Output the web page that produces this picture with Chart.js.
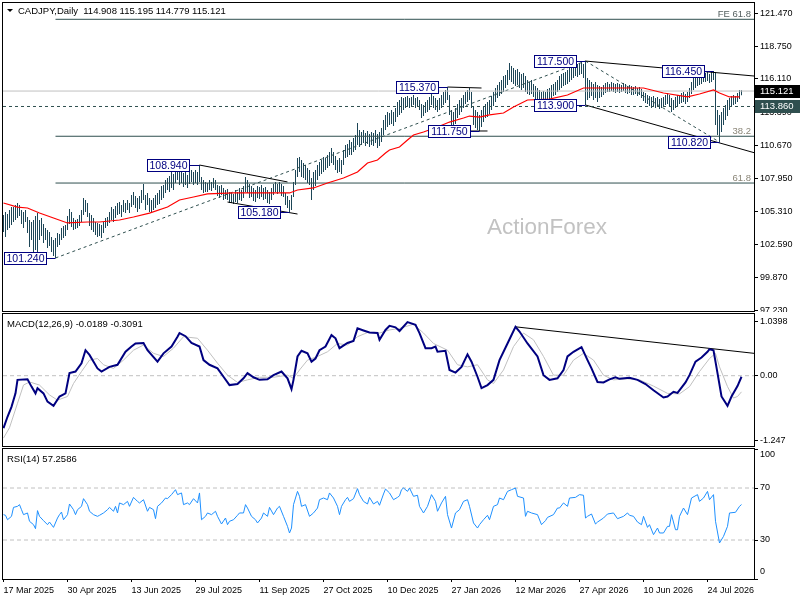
<!DOCTYPE html>
<html>
<head>
<meta charset="utf-8">
<title>CADJPY Daily</title>
<script src="https://cdn.jsdelivr.net/npm/chart.js@4.4.1/dist/chart.umd.min.js"></script>
<style>
  html, body { margin: 0; padding: 0; background: #fff; }
  #wrap { position: relative; width: 800px; height: 600px; overflow: hidden; background: #fff; }
  #wrap canvas { position: absolute; left: 0; }
</style>
</head>
<body>
<div id="wrap">
  <canvas id="priceChart" width="800" height="312" style="top:0px"></canvas>
  <canvas id="macdChart" width="800" height="135" style="top:312px"></canvas>
  <canvas id="rsiChart" width="800" height="153" style="top:447px"></canvas>
</div>
<script>
// ---- data (daily bars, index 0 = 17 Mar 2025) ----
const headerText = 'CADJPY,Daily  114.908 115.195 114.779 115.121';
const macdText = 'MACD(12,26,9) -0.0189 -0.3091';
const rsiText = 'RSI(14) 57.2586';

const dateIdx = [0, 32, 64, 96, 128, 160, 192, 224, 256, 288, 320, 352];
const dateLabels = ['17 Mar 2025', '30 Apr 2025', '13 Jun 2025', '29 Jul 2025', '11 Sep 2025', '27 Oct 2025',
  '10 Dec 2025', '27 Jan 2026', '12 Mar 2026', '27 Apr 2026', '10 Jun 2026', '24 Jul 2026'];

const highs = [
  105.00,105.25,105.08,105.41,105.65,105.65,105.82,105.98,105.82,105.41,
  105.25,105.41,104.84,104.59,104.43,104.59,104.92,105.16,104.59,104.76,
  104.27,103.94,103.78,103.61,103.21,102.96,103.12,103.53,103.45,103.94,
  104.10,104.18,104.92,105.49,105.25,104.76,104.59,104.67,105.00,105.41,
  106.39,106.23,105.98,105.16,105.00,104.76,104.43,104.35,104.27,104.18,
  104.43,104.76,104.84,105.25,105.65,105.49,105.74,105.98,106.06,105.82,
  106.23,105.98,106.23,105.98,106.63,106.88,106.55,106.39,106.55,107.04,
  107.53,106.63,106.80,106.39,106.23,106.39,106.63,106.80,107.04,107.37,
  107.45,107.86,108.02,108.19,108.51,108.35,108.84,108.92,108.59,108.67,
  108.43,108.51,108.27,108.59,108.67,108.51,108.67,108.51,109.08,108.10,
  107.86,107.70,107.61,107.86,107.70,108.02,107.86,107.45,107.37,107.45,
  107.21,107.04,107.12,106.88,106.80,106.72,107.04,106.88,107.21,107.04,
  107.37,108.10,107.86,107.53,107.37,107.21,107.04,107.37,107.29,107.45,
  107.21,107.29,107.04,106.88,107.21,107.53,107.70,107.53,107.70,107.53,
  107.37,106.80,106.55,106.23,106.63,107.70,108.67,109.65,109.74,109.49,
  109.25,109.08,108.84,108.67,108.02,108.51,108.67,109.08,109.33,109.49,
  109.74,109.65,109.90,110.14,110.47,110.14,109.82,109.49,109.65,109.49,
  110.31,110.72,110.80,111.12,110.96,111.29,111.53,112.51,111.94,111.78,
  111.94,111.70,111.86,111.61,111.78,111.70,111.94,111.61,111.78,112.10,
  112.76,113.17,113.41,113.33,113.57,113.41,113.74,114.23,114.39,114.64,
  114.55,114.64,114.72,114.55,114.64,114.80,114.55,114.64,114.39,114.06,
  113.98,114.23,114.39,114.64,114.96,114.72,114.55,114.39,114.55,114.80,
  115.04,115.21,115.45,114.80,113.57,113.41,113.74,114.06,114.39,114.55,
  114.80,115.04,115.21,115.37,115.04,113.90,113.57,113.41,113.17,113.57,
  113.90,114.06,114.23,114.39,114.72,115.04,115.37,115.62,115.86,116.02,
  116.35,116.43,116.84,117.41,117.17,117.00,116.84,116.92,116.68,116.51,
  116.60,116.35,116.02,115.86,116.02,115.70,115.53,115.37,115.21,115.04,
  115.12,115.04,115.29,115.37,115.62,115.70,115.86,116.02,116.35,116.51,
  116.60,116.68,116.84,117.00,117.09,117.17,117.25,117.33,117.41,117.49,
  117.33,117.57,116.19,116.02,115.86,115.70,115.86,115.62,115.53,115.45,
  115.62,115.78,115.86,115.70,115.86,115.78,115.70,115.78,115.70,115.62,
  115.78,115.70,115.53,115.62,115.53,115.45,115.53,115.37,115.45,115.29,
  115.04,114.96,114.80,114.72,114.64,114.72,114.55,114.64,114.47,114.55,
  114.64,114.80,114.96,114.80,114.55,114.39,114.64,114.80,114.72,114.96,
  115.04,114.88,115.04,115.37,115.86,116.19,116.35,116.51,116.43,116.60,
  116.68,116.60,116.68,116.51,116.68,116.76,116.68,113.57,113.17,113.41,
  113.74,113.98,114.39,114.55,114.72,114.80,114.72,114.96,115.21,115.195
];
const lows = [
  103.61,103.21,103.78,103.94,104.18,104.43,104.59,104.76,104.92,104.27,
  103.94,104.43,103.53,102.39,102.96,101.73,102.14,101.57,102.96,103.29,
  102.71,102.96,102.31,102.47,101.98,101.65,101.49,102.39,102.55,102.96,
  103.12,103.29,103.78,104.27,104.02,103.78,103.86,103.94,104.10,104.43,
  105.00,105.25,104.84,104.10,103.78,103.61,103.37,103.21,103.29,103.12,
  103.53,103.94,104.10,104.35,104.59,104.43,104.76,105.00,105.08,104.84,
  105.25,105.16,105.41,105.16,105.65,105.82,105.57,105.25,105.49,105.98,
  106.23,105.41,105.82,105.25,105.16,105.41,105.57,105.82,105.90,106.23,
  106.39,106.80,107.04,106.88,107.21,107.04,107.61,107.86,107.45,107.61,
  107.29,107.45,107.21,107.53,107.70,107.45,107.61,107.45,107.70,107.04,
  106.80,106.88,106.88,107.04,106.96,107.21,107.04,106.55,106.39,106.63,
  106.23,106.31,106.23,105.98,105.98,105.90,106.06,105.98,106.23,106.14,
  106.39,106.88,106.80,106.39,106.47,106.14,106.06,106.39,106.31,106.47,
  106.23,106.31,105.98,105.90,106.23,106.63,106.88,106.72,106.88,106.55,
  106.47,105.82,105.57,105.25,105.41,106.47,107.45,108.10,108.51,108.10,
  108.02,107.86,107.61,107.45,106.23,107.04,107.37,107.86,108.19,108.35,
  108.51,108.67,108.84,109.00,109.25,109.08,108.67,108.43,108.51,108.35,
  109.08,109.65,109.74,109.90,109.90,110.14,110.31,110.72,110.55,110.72,
  110.88,110.63,110.80,110.55,110.72,110.63,110.88,110.47,110.63,110.96,
  111.53,111.94,112.19,112.35,112.43,112.27,112.59,113.00,113.17,113.33,
  113.57,113.74,113.90,113.74,113.82,113.98,113.74,113.90,113.57,112.92,
  113.08,113.33,113.41,113.57,113.98,113.74,113.57,113.41,113.57,113.74,
  113.98,114.15,114.39,113.17,111.70,112.10,112.43,112.92,113.17,113.41,
  113.74,114.06,114.23,114.39,113.74,112.35,112.10,111.94,111.86,112.19,
  112.59,112.92,113.00,113.25,113.57,113.90,114.23,114.55,114.72,114.88,
  115.04,115.37,115.62,116.02,115.86,115.70,115.53,115.62,115.37,115.21,
  115.37,115.04,114.88,114.80,114.88,114.64,114.39,114.15,114.06,113.98,
  114.06,113.98,114.23,114.39,114.55,114.72,114.80,115.04,115.21,115.37,
  115.53,115.62,115.70,115.86,116.02,116.19,116.35,116.27,116.43,116.51,
  116.19,113.98,114.39,114.55,114.72,114.39,114.55,114.23,114.55,114.64,
  114.80,114.96,115.04,115.04,115.12,115.04,114.96,115.04,114.96,115.04,
  115.12,114.96,114.88,114.96,114.80,114.80,114.88,114.72,114.80,114.55,
  114.31,114.15,114.06,113.90,113.74,113.90,113.74,113.82,113.66,113.74,
  113.90,113.98,114.06,113.90,113.41,113.57,113.74,113.90,114.06,114.15,
  114.23,114.06,114.23,114.55,114.88,115.21,115.37,115.53,115.62,115.70,
  115.86,115.86,115.94,115.78,115.86,116.02,112.35,111.53,110.96,111.78,
  112.35,112.76,113.08,113.57,113.82,113.98,114.06,114.23,114.47,114.779
];

// red moving average, sampled [bar index, value]
const maLine = [
  [0,105.98],[7,105.65],[12,105.57],[18,105.16],[25,104.76],[32,104.35],[42,104.43],[48,104.43],[58,104.59],[65,104.84],
  [73,105.16],[82,105.65],[88,106.23],[95,106.47],[102,106.72],[115,106.80],[122,106.80],[128,106.80],[140,106.80],[143,106.80],
  [147,107.04],[155,107.21],[162,107.61],[170,108.02],[177,108.51],[182,109.25],[187,109.49],[191,110.06],[193,110.31],[198,110.55],
  [202,111.12],[205,111.53],[210,111.78],[217,112.19],[223,112.59],[230,112.92],[233,113.08],[238,113.00],[243,113.17],[250,113.33],
  [255,113.82],[262,114.39],[273,114.47],[282,114.80],[290,115.37],[297,115.37],[307,115.37],[320,115.37],[330,114.96],[342,114.64],
  [348,114.88],[355,115.21],[358,114.96],[363,114.64],[368,114.64]
];

const priceTicks = [121.47, 118.75, 116.11, 113.39, 110.67, 107.95, 105.31, 102.59, 99.87, 97.23];
const bidPrice = 115.121;
const levelPrice = 113.86;
const fibValues = [120.98, 111.43, 107.61];
const fibNames = ['FE 61.8', '38.2', '61.8'];
const fibStart = 26;

// price tags: text, bar index, price
const tagText = ['101.240', '108.940', '105.180', '115.370', '111.750', '117.500', '113.900', '116.450', '110.820'];
const tagIndex = [26, 98, 143, 222, 238, 291, 291, 355, 358];
const tagPrice = [101.49, 109.08, 105.25, 115.45, 111.86, 117.57, 113.98, 116.76, 110.96];

// trend lines [index1, price1, index2, price2]
const solidLines = [
  [291, 117.57, 375.25, 116.35],
  [291, 113.98, 375.25, 110.09],
  [98, 109.08, 142, 107.70],
  [112, 106.06, 147, 105.08],
  [222, 115.45, 239, 115.37],
  [232, 111.86, 242, 111.86]
];
const dashedLines = [
  [26, 101.49, 291, 117.57],
  [291, 117.57, 358, 110.96]
];

const macdLine = [
  [0,-1.01],[2,-0.79],[4,-0.60],[6,-0.34],[7,-0.08],[12,-0.07],[14,-0.21],[16,-0.34],[17,-0.24],[20,-0.34],
  [22,-0.50],[25,-0.58],[28,-0.40],[31,-0.34],[33,0.05],[36,0.08],[39,0.24],[41,0.49],[43,0.40],[47,0.14],
  [49,0.08],[53,0.17],[57,0.21],[61,0.46],[64,0.56],[66,0.62],[70,0.63],[72,0.49],[77,0.27],[80,0.43],
  [84,0.56],[87,0.75],[88,0.82],[91,0.76],[94,0.63],[98,0.56],[100,0.30],[103,0.21],[107,0.14],[110,-0.02],
  [113,-0.18],[117,-0.16],[120,-0.05],[122,0.05],[125,-0.03],[128,-0.08],[132,-0.07],[135,0.01],[139,0.08],[142,-0.05],
  [144,-0.26],[145,-0.08],[147,0.37],[149,0.48],[152,0.43],[154,0.27],[156,0.33],[158,0.49],[161,0.56],[164,0.78],
  [166,0.72],[168,0.53],[172,0.63],[175,0.67],[177,0.91],[180,0.87],[183,0.83],[187,0.82],[188,0.69],[191,0.88],
  [193,0.96],[196,0.93],[198,0.86],[202,1.03],[206,0.98],[208,0.82],[211,0.53],[214,0.53],[216,0.56],[217,0.46],
  [221,0.48],[223,0.11],[226,0.06],[229,0.17],[232,0.41],[234,0.27],[237,-0.02],[239,-0.24],[242,-0.18],[245,-0.08],
  [248,0.30],[252,0.62],[256,0.94],[258,0.85],[262,0.62],[267,0.37],[270,0.01],[273,-0.08],[277,-0.05],[280,0.11],
  [282,0.37],[285,0.46],[289,0.55],[292,0.30],[294,0.14],[297,-0.12],[300,-0.13],[303,-0.07],[306,-0.03],[308,-0.06],
  [313,-0.04],[317,-0.08],[321,-0.16],[325,-0.28],[330,-0.42],[332,-0.40],[335,-0.31],[337,-0.33],[341,-0.13],[343,0.01],
  [346,0.27],[349,0.35],[352,0.46],[353,0.51],[355,0.49],[357,0.05],[359,-0.40],[362,-0.58],[364,-0.40],[367,-0.20],
  [369,-0.02]
];
const signalLine = [
  [0,-1.20],[3,-1.00],[7,-0.53],[10,-0.18],[13,-0.12],[18,-0.18],[23,-0.37],[27,-0.47],[32,-0.40],[35,-0.15],
  [39,0.08],[43,0.30],[47,0.33],[50,0.21],[55,0.14],[60,0.30],[65,0.49],[70,0.59],[75,0.43],[80,0.37],
  [85,0.53],[90,0.75],[97,0.72],[102,0.49],[107,0.24],[112,0.01],[117,-0.13],[122,-0.08],[128,-0.03],[135,-0.03],
  [142,0.01],[145,-0.05],[148,0.11],[152,0.30],[157,0.37],[162,0.46],[167,0.62],[172,0.59],[177,0.75],[182,0.83],
  [188,0.82],[193,0.88],[198,0.91],[205,0.99],[210,0.82],[215,0.62],[222,0.49],[227,0.21],[232,0.17],[237,0.21],
  [242,-0.08],[245,-0.15],[250,0.11],[255,0.56],[260,0.82],[265,0.69],[270,0.37],[275,0.01],[280,0.01],[285,0.30],
  [290,0.43],[295,0.30],[300,0.01],[305,-0.08],[312,-0.06],[318,-0.08],[325,-0.20],[332,-0.34],[338,-0.35],[343,-0.21],
  [348,0.08],[353,0.33],[356,0.43],[358,0.17],[362,-0.21],[365,-0.43],[367,-0.40],[369,-0.31]
];
const macdTicks = [1.0398, 0, -1.247];
const macdTickLabels = ['1.0398', '0.00', '-1.247'];
const macdTrend = [256, 0.94, 375.25, 0.43];

const rsiLine = [
  [0,49.5],[1,49.0],[2,45.6],[4,48.2],[5,55.1],[7,55.9],[8,57.2],[9,53.3],[10,49.5],[12,50.8],
  [13,44.4],[15,41.8],[16,38.7],[17,52.6],[18,48.2],[20,44.9],[22,41.8],[23,43.8],[25,39.7],[27,46.9],
  [28,49.5],[29,51.5],[30,45.6],[32,49.5],[33,57.7],[35,53.3],[36,49.5],[37,53.3],[39,55.9],[40,61.8],
  [42,57.2],[43,52.1],[45,49.5],[47,48.2],[48,49.0],[50,50.8],[52,53.3],[53,55.1],[55,52.1],[56,55.9],
  [57,50.8],[58,58.5],[60,57.2],[62,59.7],[63,55.9],[65,62.8],[67,59.7],[68,58.5],[70,61.0],[72,52.1],
  [73,55.1],[75,53.3],[76,46.4],[77,55.9],[79,58.5],[81,62.3],[82,61.8],[84,64.9],[86,68.7],[87,64.9],
  [89,66.2],[90,57.2],[92,58.5],[93,57.2],[95,61.8],[97,58.5],[98,66.2],[99,45.6],[101,48.2],[102,50.8],
  [104,49.5],[106,52.1],[107,48.2],[109,42.3],[111,46.9],[112,41.8],[113,44.4],[115,45.6],[117,49.0],[118,50.8],
  [120,50.8],[121,57.2],[122,54.6],[124,48.2],[126,45.6],[127,43.1],[129,46.9],[130,50.8],[132,48.2],[133,55.1],
  [135,49.5],[137,54.6],[138,55.9],[140,48.2],[142,40.5],[143,35.4],[144,39.2],[145,57.2],[147,67.4],[148,63.6],
  [149,55.9],[151,57.2],[153,48.2],[155,50.8],[157,54.6],[158,61.0],[160,62.3],[162,61.0],[163,66.2],[165,62.3],
  [167,55.9],[168,49.5],[169,55.9],[171,61.0],[172,62.8],[173,59.7],[175,61.8],[177,69.5],[178,64.9],[180,59.7],
  [182,57.7],[183,62.8],[185,57.7],[187,59.7],[188,56.7],[190,65.4],[191,69.2],[193,66.2],[195,61.0],[197,62.8],
  [198,64.0],[199,68.7],[200,70.0],[202,67.4],[203,70.0],[205,63.6],[207,64.4],[208,55.9],[210,50.8],[212,55.9],
  [214,64.9],[216,59.7],[217,52.1],[219,58.5],[221,63.6],[222,49.5],[224,39.2],[226,50.8],[228,53.3],[230,59.7],
  [232,61.0],[233,55.9],[235,43.1],[237,39.2],[238,41.8],[240,45.6],[242,49.0],[243,45.6],[245,55.9],[247,57.2],
  [248,62.3],[250,61.0],[252,67.4],[254,68.7],[256,70.0],[257,63.6],[260,62.3],[261,48.2],[262,52.1],[264,50.8],
  [267,49.5],[269,41.8],[271,44.9],[272,47.4],[275,49.5],[277,54.6],[278,54.6],[280,58.5],[282,55.9],[283,62.3],
  [286,62.8],[288,64.9],[290,64.4],[291,46.9],[292,48.2],[294,50.0],[296,42.3],[297,43.8],[300,46.9],[302,50.0],
  [305,50.8],[307,46.4],[310,48.2],[312,50.8],[313,49.0],[315,48.2],[317,43.8],[319,41.8],[320,48.2],[322,39.7],
  [323,41.8],[325,34.1],[327,39.2],[328,35.4],[330,35.4],[332,40.5],[333,40.5],[334,49.5],[336,37.9],[337,37.9],
  [338,48.2],[340,54.6],[342,49.5],[344,62.3],[347,64.9],[348,59.7],[350,62.3],[352,67.4],[353,61.0],[355,64.9],
  [356,44.4],[358,27.7],[360,32.8],[362,40.5],[363,50.8],[366,51.3],[368,55.9],[369,57.26]
];
const rsiTicks = [100, 70, 30, 0];
const rsiLevels = [70, 30];

// ---- styling ----
const FONT = '"Liberation Sans", Arial, sans-serif';
const BAR_COLOR = '#1d4657';
const SLATE = '#2f4f4f';
const TAG_COLOR = '#000080';
const X_MIN = -0.25, X_MAX = 375.25;

Chart.defaults.font.family = FONT;
Chart.defaults.font.size = 9;
Chart.defaults.color = '#000';

function xScale(show) {
  return {
    type: 'linear', min: X_MIN, max: X_MAX, offset: false, display: show,
    afterBuildTicks: sc => { sc.ticks = dateIdx.map(v => ({ value: v })); },
    ticks: { autoSkip: false, maxRotation: 0, align: 'start', padding: 3, color: '#000',
      callback: (v, i) => dateLabels[i] },
    grid: { drawOnChartArea: false, drawTicks: true, tickLength: 3, color: '#000', offset: false },
    border: { display: false },
    afterFit: sc => {
      sc.height = show ? 21 : 0;
      sc.paddingLeft = 0; sc.paddingRight = 0;
    }
  };
}

function yScale(min, max, ticks, labelFn, showLabels) {
  return {
    position: 'right', min: min, max: max,
    afterBuildTicks: s => { s.ticks = ticks.map(v => ({ value: v })); },
    ticks: { display: showLabels, padding: 2, color: '#000', callback: labelFn },
    grid: { drawOnChartArea: false, drawTicks: true, tickLength: 4, color: '#000' },
    border: { display: false },
    afterFit: s => {
      s.width = 46;
      s.paddingTop = 0; s.paddingBottom = 0;
    }
  };
}

function seg(p, color, dash, width) {
  return { type: 'line', data: [{ x: p[0], y: p[1] }, { x: p[2], y: p[3] }],
    borderColor: color, borderWidth: width || 1, borderDash: dash || [], pointRadius: 0, tension: 0, order: 1 };
}

function pts(list) {
  return list.map(p => ({ x: p[0], y: p[1] }));
}

const framePlugin = {
  id: 'frame',
  afterDraw(chart) {
    const { ctx, chartArea: a } = chart;
    ctx.save();
    ctx.strokeStyle = '#000';
    ctx.lineWidth = 1;
    ctx.strokeRect(a.left - 0.5, a.top - 0.5, a.width + 1, a.height + 1);
    ctx.restore();
  }
};

function titlePlugin(text, x, baseline, triangle) {
  return {
    id: 'title' + baseline,
    afterDraw(chart) {
      const ctx = chart.ctx;
      ctx.save();
      ctx.fillStyle = '#000';
      ctx.font = '9.5px ' + FONT;
      ctx.textAlign = 'left';
      ctx.textBaseline = 'alphabetic';
      if (triangle) {
        ctx.beginPath();
        ctx.moveTo(7, 9); ctx.lineTo(13, 9); ctx.lineTo(10, 12); ctx.closePath();
        ctx.fill();
      }
      ctx.fillText(text, x, baseline);
      ctx.restore();
    }
  };
}

const pricePlugin = {
  id: 'priceExtras',
  beforeDatasetsDraw(chart) {
    const ctx = chart.ctx;
    ctx.save();
    ctx.fillStyle = '#c2c2c2';
    ctx.font = '22.5px ' + FONT;
    ctx.textAlign = 'left';
    ctx.textBaseline = 'alphabetic';
    ctx.fillText('ActionForex', 487, 234);
    ctx.restore();
  },
  afterDatasetsDraw(chart) {
    const { ctx, scales: { x, y }, chartArea: a } = chart;
    ctx.save();
    // fibo captions
    ctx.font = '9.5px ' + FONT;
    ctx.textAlign = 'right';
    ctx.textBaseline = 'alphabetic';
    fibValues.forEach((v, k) => {
      ctx.fillStyle = k === 0 ? '#556060' : '#8a8577';
      ctx.fillText(fibNames[k], a.right - 3, y.getPixelForValue(v) - 2);
    });
    // price tags
    ctx.font = '10.5px ' + FONT;
    ctx.textAlign = 'center';
    ctx.textBaseline = 'middle';
    ctx.lineWidth = 1;
    tagText.forEach((t, k) => {
      const px = x.getPixelForValue(tagIndex[k]);
      const yc = Math.round(y.getPixelForValue(tagPrice[k]));
      const right = Math.round(px - 10) + 0.5;
      const left = right - 42;
      ctx.fillStyle = '#fff';
      ctx.fillRect(left, yc - 5.5, 42, 12);
      ctx.strokeStyle = TAG_COLOR;
      ctx.strokeRect(left, yc - 5.5, 42, 12);
      ctx.beginPath();
      ctx.moveTo(right, yc + 0.5);
      ctx.lineTo(px, yc + 0.5);
      ctx.stroke();
      ctx.fillStyle = TAG_COLOR;
      ctx.fillText(t, left + 21, yc + 1);
    });
    ctx.restore();
  },
  afterDraw(chart) {
    const { ctx, scales: { y }, chartArea: a } = chart;
    ctx.save();
    ctx.font = '9.5px ' + FONT;
    ctx.textAlign = 'left';
    ctx.textBaseline = 'middle';
    [[bidPrice, '#000000'], [levelPrice, SLATE]].forEach(m => {
      const yc = Math.round(y.getPixelForValue(m[0]));
      ctx.fillStyle = m[1];
      ctx.fillRect(a.right + 1, yc - 6, 46, 13);
      ctx.fillStyle = '#fff';
      ctx.fillText(m[0].toFixed(3), a.right + 6, yc + 0.5);
    });
    ctx.restore();
  }
};

const rsiLabelPlugin = {
  id: 'rsiLabels',
  afterDraw(chart) {
    const { ctx, scales: { y }, chartArea: a } = chart;
    ctx.save();
    ctx.fillStyle = '#000';
    ctx.font = '9px ' + FONT;
    ctx.textAlign = 'left';
    ctx.textBaseline = 'middle';
    rsiTicks.forEach(v => {
      const yy = Math.min(Math.max(y.getPixelForValue(v), a.top + 6), a.bottom - 7);
      ctx.fillText(String(v), a.right + 6, yy);
    });
    ctx.restore();
  }
};

const common = {
  responsive: false, animation: false, events: [],
  plugins: { legend: { display: false }, tooltip: { enabled: false } }
};

// ---- price panel ----
const priceSets = [
  { type: 'line', data: pts(maLine), borderColor: '#ff0000', borderWidth: 1.2, pointRadius: 0, tension: 0, order: 0 },
  seg([X_MIN, bidPrice, X_MAX, bidPrice], '#c0c0c0'),
  seg([X_MIN, levelPrice, X_MAX, levelPrice], SLATE, [3, 3])
];
fibValues.forEach(v => priceSets.push(seg([fibStart, v, X_MAX, v], SLATE)));
solidLines.forEach(l => priceSets.push(seg(l, '#000')));
dashedLines.forEach(l => priceSets.push(seg(l, SLATE, [3, 3])));
priceSets.push({
  type: 'bar', data: highs.map((h, i) => ({ x: i, y: [lows[i], h] })),
  backgroundColor: BAR_COLOR, borderWidth: 0, barThickness: 1, inflateAmount: 0, order: 5
});

new Chart(document.getElementById('priceChart'), {
  type: 'bar',
  data: { datasets: priceSets },
  options: Object.assign({}, common, {
    layout: { padding: { left: 3, top: 3, right: 0, bottom: 1 } },
    scales: {
      x: xScale(false),
      y: yScale(97.162, 122.311, priceTicks, v => v.toFixed(3), true)
    }
  }),
  plugins: [framePlugin, pricePlugin, titlePlugin(headerText, 18, 14, true)]
});

// ---- MACD panel ----
new Chart(document.getElementById('macdChart'), {
  type: 'line',
  data: { datasets: [
    { data: pts(macdLine), borderColor: '#000080', borderWidth: 2, pointRadius: 0, tension: 0, order: 0 },
    { data: pts(signalLine), borderColor: '#c0c0c0', borderWidth: 1, pointRadius: 0, tension: 0, order: 1 },
    seg([X_MIN, 0, X_MAX, 0], '#c0c0c0', [4, 3]),
    seg(macdTrend, '#000')
  ] },
  options: Object.assign({}, common, {
    layout: { padding: { left: 3, top: 2, right: 0, bottom: 1 } },
    scales: {
      x: xScale(false),
      y: yScale(-1.352, 1.1865, macdTicks, (v, i) => macdTickLabels[i], true)
    }
  }),
  plugins: [framePlugin, titlePlugin(macdText, 7, 15, false)]
});

// ---- RSI panel ----
const rsiSets = [
  { data: pts(rsiLine), borderColor: '#1e90ff', borderWidth: 1, pointRadius: 0, tension: 0, order: 0 }
];
rsiLevels.forEach(v => rsiSets.push(seg([X_MIN, v, X_MAX, v], '#c0c0c0', [4, 3])));

new Chart(document.getElementById('rsiChart'), {
  type: 'line',
  data: { datasets: rsiSets },
  options: Object.assign({}, common, {
    layout: { padding: { left: 3, top: 2, right: 0, bottom: 0 } },
    scales: {
      x: xScale(true),
      y: yScale(0, 100, rsiTicks, v => String(v), false)
    }
  }),
  plugins: [framePlugin, rsiLabelPlugin, titlePlugin(rsiText, 7, 15, false)]
});
</script>
</body>
</html>
